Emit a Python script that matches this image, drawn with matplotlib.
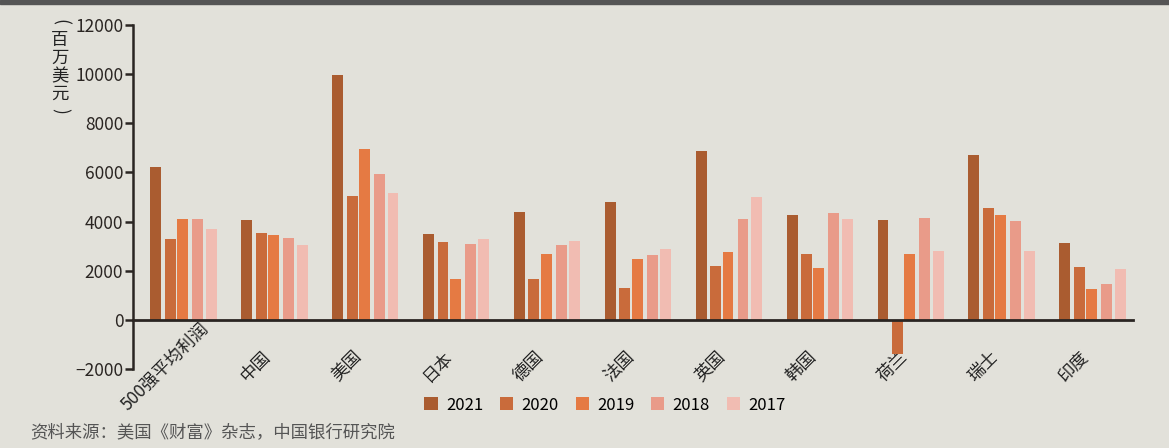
import matplotlib.pyplot as plt
import numpy as np

plt.rcParams['font.family'] = ['Noto Sans CJK SC', 'DejaVu Sans']

# 数据
groups = ['500强平均利润', '中国', '美国', '日本', '德国', '法国', '英国', '韩国', '荷兰', '瑞士', '印度']
years = ['2021', '2020', '2019', '2018', '2017']
v2021 = [6230, 4070, 9980, 3500, 4390, 4800, 6870, 4270, 4070, 6700, 3130]
v2020 = [3300, 3540, 5040, 3170, 1670, 1300, 2200, 2690, -1380, 4550, 2150]
v2019 = [4110, 3460, 6960, 1670, 2680, 2480, 2770, 2120, 2680, 4270, 1260]
v2018 = [4110, 3340, 5940, 3090, 3050, 2640, 4110, 4350, 4150, 4030, 1460]
v2017 = [3700, 3050, 5170, 3300, 3210, 2890, 5000, 4110, 2800, 2800, 2070]
colors = ['#AA5C30', '#C96B3B', '#E57A43', '#E99B89', '#F1BCB2']
bg = '#E2E1DA'

fig = plt.figure(figsize=(11.69, 4.48), dpi=100, facecolor=bg)
ax = fig.add_axes([133/1169, 1-369/448, 1000/1169, 344/448], facecolor=bg)

x = np.arange(len(groups))
series = [v2021, v2020, v2019, v2018, v2017]
offsets = [-0.30, -0.14, -0.005, 0.16, 0.31]
for vals, off, c, yr in zip(series, offsets, colors, years):
    ax.bar(x + off, vals, width=0.12, color=c, label=yr, zorder=2)

ax.set_xlim(-0.55, 10.45)
ax.set_ylim(-2000, 12000)
ax.set_yticks(range(-2000, 12001, 2000))
ax.set_yticklabels(['\u22122000'] + [str(v) for v in range(0, 12001, 2000)])

for s in ['top', 'right']:
    ax.spines[s].set_visible(False)
ax.spines['bottom'].set_position(('data', 0))
ax.spines['bottom'].set_color('#2a2522')
ax.spines['bottom'].set_linewidth(2)
ax.spines['bottom'].set_zorder(3)
ax.spines['left'].set_color('#2a2522')
ax.spines['left'].set_linewidth(1.8)
ax.tick_params(axis='y', length=6, width=1.8, color='#2a2522', labelsize=12.5,
               labelcolor='#2a2522', pad=1)

# 标签中心放在组中心偏左
ax.set_xticks(x - 0.2)
ax.set_xticklabels(groups, rotation=45, ha='center', va='center', rotation_mode='anchor',
                   fontsize=12.5, color='#222222')
ax.tick_params(axis='x', length=0, pad=33.5)

# 竖排单位
ux = 60/1169
fig.text(ux, 1-22/448, '(', rotation=-90, ha='center', va='center', fontsize=12.5, color='#222222')
fig.text(ux, 1-67/448, '百\n万\n美\n元', ha='center', va='center',
         fontsize=12.5, color='#222222', linespacing=1.0, fontweight='medium')
fig.text(ux, 1-111/448, ')', rotation=-90, ha='center', va='center', fontsize=12.5, color='#222222')

fig.legend(loc='center', bbox_to_anchor=(605/1169, 1-405/448), ncol=5, frameon=False,
           fontsize=12, handlelength=0.8, handleheight=0.8, columnspacing=1.0,
           handletextpad=0.5)

fig.text(30/1169, 1-432/448, '资料来源：美国《财富》杂志，中国银行研究院', ha='left', va='center',
         fontsize=12.5, color='#555555')

fig.patches.append(plt.Rectangle((0, 1-4/448), 1, 4/448, transform=fig.transFigure,
                                 color='#555555', zorder=5))

fig.savefig('out.png', dpi=100, facecolor=bg)
